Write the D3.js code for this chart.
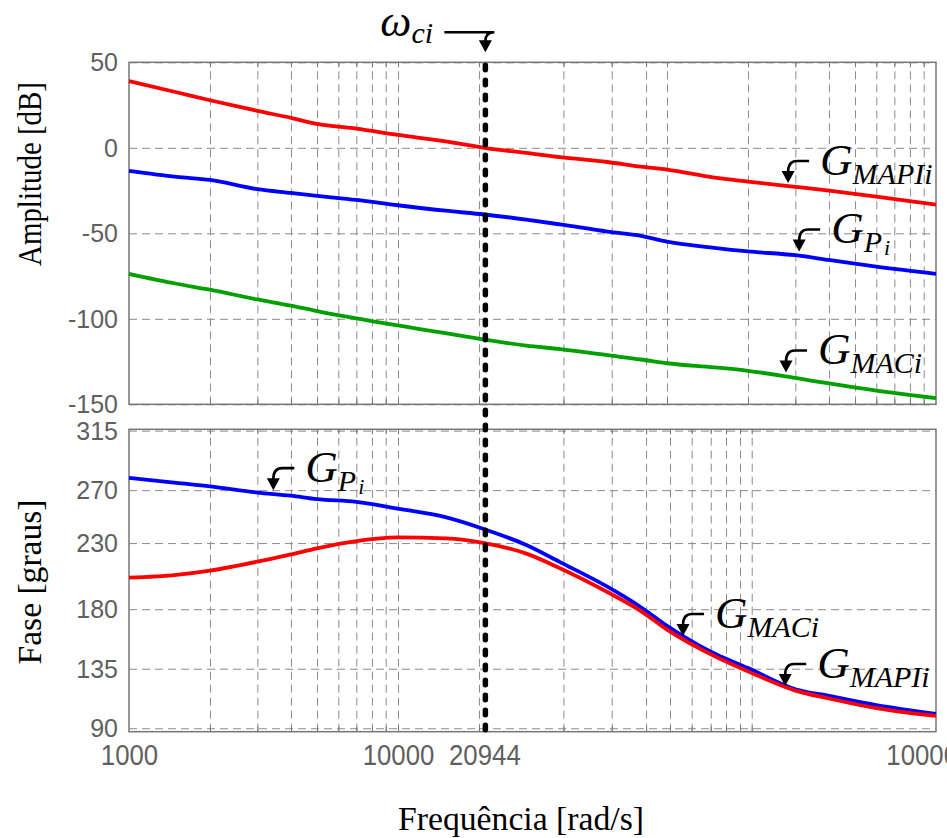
<!DOCTYPE html>
<html>
<head>
<meta charset="utf-8">
<script src="https://cdn.jsdelivr.net/npm/d3@7"></script>
<style>
  body { margin: 0; background: #fff; }
  .tick text { fill: #5f5f5f; font-family: "Liberation Sans", Arial, sans-serif; }
</style>
</head>
<body>
<div id="chart"></div>
<script>
const freq = [1000, 1500, 2000, 3000, 4000, 5000, 7000, 10000, 15000, 20944,
  30000, 40000, 60000, 80000, 100000, 150000, 200000, 300000, 400000, 600000, 1000000];

// amplitude [dB]
const magMAPIi = [39, 32.5, 27.8, 21.6, 17.5, 14, 11.2, 7.5, 3.8, 0,
  -3, -5.5, -8.3, -11, -12.7, -17.5, -19.8, -22.8, -25, -28.5, -33.3];
const magPi = [-13.5, -17, -18.8, -24.2, -26.4, -28.1, -30.5, -33.6, -36.8, -39,
  -42, -44.8, -49, -51.5, -54.8, -58.5, -60.6, -62.8, -65.6, -69.5, -73.7];
const magMACi = [-73.7, -79.5, -83, -88.7, -92.3, -95.5, -99.8, -103.9, -108.4, -112.2,
  -115.7, -117.7, -121.3, -123.8, -126, -128.4, -130.4, -134.6, -137.8, -142, -146.4];

// fase [graus]
const phasePi = [279.3, 275.5, 272.9, 268.2, 265.8, 263.2, 261.2, 256, 249.6, 240.5,
  228.5, 215.6, 197, 181.5, 167.5, 146.5, 135.5, 119.5, 114.5, 107.5, 100.8];
const phaseMAPIi = [203.8, 206, 209.2, 215.9, 221.4, 226, 231.5, 234.3, 233.5, 230,
  222, 211, 193, 178.6, 164.5, 144.5, 133, 118.5, 112.5, 105.2, 99.3];

// ticks
const magTicks = [50, 0, -50, -100, -150];
const phaseTicks = [315, 270, 230, 180, 135, 90];
const freqTickValues = [1000, 10000, 20944, 1000000];
const freqTickLabels = ["1000", "10000", "20944", "1000000"];
const gridFreqMag = [2000, 3000, 4000, 5000, 6000, 7000, 8000, 9000, 10000, 20000,
  41200, 62300, 83600, 100000, 200000, 300000, 400000, 500000, 600000, 700000, 800000, 900000];
const gridFreqPhase = [2000, 3000, 4000, 5000, 6000, 7000, 8000, 9000, 10000, 20000,
  41200, 62300, 83600, 102600, 123500, 145400, 165700, 186800, 206500];

// crossover frequency
const wci = 20944;

// annotations (panel, subscript, sub-subscript, frequency, value at arrow tip)
const annPanel = ["mag", "mag", "mag", "phase", "phase", "phase"];
const annSub = ["MAPIi", "P", "MACi", "P", "MACi", "MAPIi"];
const annSubSub = ["", "i", "", "i", "", ""];
const annFreq = [282000, 310000, 277000, 3440, 114700, 275000];
const annValue = [-20.6, -60.6, -131.4, 270, 159.7, 122];

const width = 947, height = 838;
const left = 129, right = 936;
const serif = "'Liberation Serif', 'Times New Roman', serif";

const svg = d3.select("#chart").append("svg")
  .attr("width", width)
  .attr("height", height)
  .style("display", "block");

const x = d3.scaleLog().domain([1e3, 1e6]).range([left, right]);
const yMag = d3.scaleLinear().domain([-150, 50]).range([404.3, 62.3]);
const yPh = d3.scaleLinear().domain([87.4, 316]).range([731.7, 429.3]);

function drawPanel(y, ticks, gridFreqs) {
  const [bottom, top] = y.range();
  const g = svg.append("g");

  // vertical grid
  g.append("g")
    .attr("transform", `translate(0,${bottom})`)
    .call(d3.axisBottom(x).tickValues(gridFreqs).tickSize(-(bottom - top)).tickFormat(""))
    .call(a => a.select(".domain").remove())
    .call(a => a.selectAll("line").attr("stroke", "#8a8a8a").attr("stroke-dasharray", "8,5"));

  // horizontal grid + labels
  g.append("g")
    .attr("transform", `translate(${left},0)`)
    .call(d3.axisLeft(y).tickValues(ticks).tickSize(-(right - left)).tickPadding(11)
      .tickFormat(d => String(d)))
    .call(a => a.select(".domain").remove())
    .call(a => a.selectAll("line").attr("stroke", "#8a8a8a").attr("stroke-dasharray", "8,5"))
    .call(a => a.selectAll("text").style("font-size", "25px").attr("dy", "0.34em"));

  // small solid ticks on the frame
  g.append("g")
    .attr("transform", `translate(0,${bottom})`)
    .call(d3.axisTop(x).tickValues(gridFreqs).tickSize(5).tickFormat(""))
    .call(a => a.select(".domain").remove())
    .call(a => a.selectAll("line").attr("stroke", "#777"));
  g.append("g")
    .attr("transform", `translate(0,${top})`)
    .call(d3.axisBottom(x).tickValues(gridFreqs).tickSize(5).tickFormat(""))
    .call(a => a.select(".domain").remove())
    .call(a => a.selectAll("line").attr("stroke", "#777"));

  // frame
  g.append("rect")
    .attr("x", left).attr("y", top)
    .attr("width", right - left).attr("height", bottom - top)
    .attr("fill", "none").attr("stroke", "#767676").attr("stroke-width", 1.5);
  return g;
}

drawPanel(yMag, magTicks, gridFreqMag);
drawPanel(yPh, phaseTicks, gridFreqPhase);

// frequency labels (tall, slightly condensed digits as in the original)
svg.append("g")
  .attr("transform", `translate(0,${yPh.range()[0]})`)
  .call(d3.axisBottom(x).tickValues(freqTickValues).tickSize(0).tickPadding(12)
    .tickFormat((d, i) => freqTickLabels[i]))
  .call(a => a.select(".domain").remove())
  .call(a => a.selectAll("text").style("font-size", "30px").attr("transform", "scale(0.86,1)"));

function drawLine(y, values, color) {
  const line = d3.line()
    .x((d, i) => x(freq[i]))
    .y(d => y(d))
    .curve(d3.curveMonotoneX);
  svg.append("path")
    .datum(values)
    .attr("d", line)
    .attr("fill", "none")
    .attr("stroke", color)
    .attr("stroke-width", 3.8)
    .attr("stroke-linejoin", "round");
}

drawLine(yMag, magMACi, "#00a000");
drawLine(yMag, magPi, "#0000ff");
drawLine(yMag, magMAPIi, "#ff0000");
drawLine(yPh, phasePi, "#0000ff");
drawLine(yPh, phaseMAPIi, "#ff0000");

// crossover marker
svg.append("line")
  .attr("x1", x(wci) + 1).attr("x2", x(wci) + 1)
  .attr("y1", yMag.range()[1] + 3).attr("y2", yPh.range()[0] + 4)
  .attr("stroke", "#000")
  .attr("stroke-width", 5.5)
  .attr("stroke-dasharray", "4.5,10.5")
  .attr("stroke-linecap", "round");

function hookArrow(tx, ty, sx, sy) {
  svg.append("path")
    .attr("d", `M${sx},${sy} H${tx + 9} Q${tx},${sy} ${tx},${ty - 11}`)
    .attr("fill", "none").attr("stroke", "#000").attr("stroke-width", 2.6);
  svg.append("path")
    .attr("d", `M${tx - 6.5},${ty - 12} L${tx + 6.5},${ty - 12} L${tx},${ty} Z`)
    .attr("fill", "#000");
}

// omega_ci label
{
  const tx = x(wci) + 1, ty = yMag.range()[1] - 10;
  hookArrow(tx, ty, tx - 41, ty - 20);
  const t = svg.append("text")
    .attr("x", tx - 105).attr("y", ty - 16)
    .attr("font-family", serif)
    .attr("font-style", "italic");
  t.append("tspan").attr("font-size", 44).text("ω");
  t.append("tspan").attr("font-size", 30).attr("dy", 7).text("ci");
}

// G labels
annSub.forEach((sub, i) => {
  const y = annPanel[i] === "mag" ? yMag : yPh;
  const tx = x(annFreq[i]), ty = y(annValue[i]);
  hookArrow(tx, ty, tx + 21, ty - 22);
  const t = svg.append("text")
    .attr("x", tx + 32).attr("y", ty - 8)
    .attr("font-family", serif)
    .attr("font-style", "italic");
  t.append("tspan").attr("font-size", 45).text("G");
  t.append("tspan").attr("font-size", 30).attr("dy", 9).text(sub);
  if (annSubSub[i]) {
    t.append("tspan").attr("font-size", 22).attr("dy", 3).attr("dx", 2).text(annSubSub[i]);
  }
});

// axis titles
svg.append("text")
  .attr("transform", "translate(41,174) rotate(-90)")
  .attr("text-anchor", "middle")
  .attr("font-family", serif)
  .attr("font-size", 33)
  .attr("textLength", 184)
  .attr("lengthAdjust", "spacingAndGlyphs")
  .text("Amplitude [dB]");

svg.append("text")
  .attr("transform", "translate(41,582) rotate(-90)")
  .attr("text-anchor", "middle")
  .attr("font-family", serif)
  .attr("font-size", 33)
  .attr("textLength", 165)
  .attr("lengthAdjust", "spacingAndGlyphs")
  .text("Fase [graus]");

svg.append("text")
  .attr("x", 521).attr("y", 830)
  .attr("text-anchor", "middle")
  .attr("font-family", serif)
  .attr("font-size", 34)
  .attr("textLength", 246)
  .attr("lengthAdjust", "spacingAndGlyphs")
  .text("Frequência [rad/s]");
</script>
</body>
</html>
